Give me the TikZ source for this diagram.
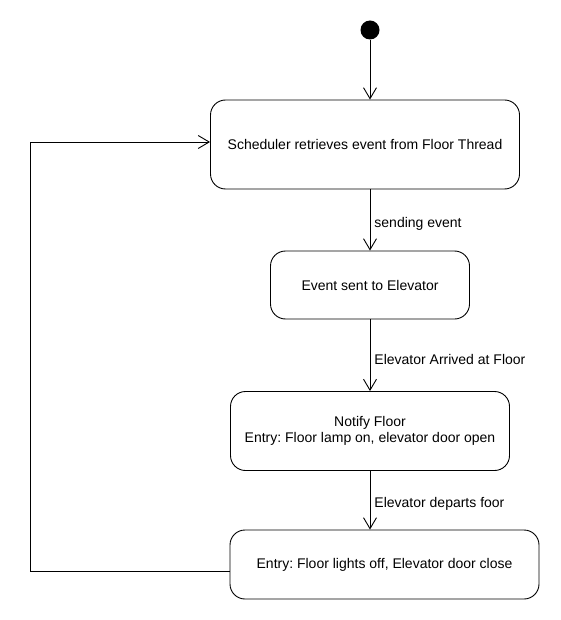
\documentclass[tikz,border=0pt]{standalone}
\usepackage{fontspec}
\setmainfont{Liberation Sans}
\usepackage{tikz}
\usetikzlibrary{arrows.meta,positioning,calc}
\frenchspacing

\tikzset{
  state/.style={draw, rounded corners=15pt, line width=0.9pt, align=center, inner sep=0pt},
  trans/.style={-{Straight Barb[length=11pt,width=13pt,line width=0.9pt]}, line width=0.9pt},
  lbl/.style={right, inner sep=4pt}
}

\begin{document}
\begin{tikzpicture}[x=1pt, y=-1pt, font=\fontsize{14}{16.5}\selectfont]
    \useasboundingbox (0,0) rectangle (560,620);

    % Initial state
    \node[circle, fill=black, minimum size=19pt, inner sep=0pt] (start) at (370,30) {};

    % States
    \node[state, minimum width=309pt, minimum height=89pt] (sched) at (365,144.5)
        {Scheduler retrieves event from Floor Thread};
    \node[state, minimum width=199pt, minimum height=68pt] (sent) at (370,285)
        {Event sent to Elevator};
    \node[state, minimum width=279pt, minimum height=79pt] (notify) at (370,431)
        {Notify Floor\\Entry: Floor lamp on, elevator door open};
    \node[state, minimum width=309pt, minimum height=69pt] (close) at (384.5,564.5)
        {Entry: Floor lights off, Elevator door close};

    % Transitions
    \draw[trans] (start) -- (start |- sched.north);
    \draw[trans] (sent.north |- sched.south) -- node[lbl, pos=0.57] {sending event} (sent.north);
    \draw[trans] (sent.south) -- node[lbl, pos=0.56] {Elevator Arrived at Floor} (notify.north);
    \draw[trans] (notify.south) -- node[lbl, pos=0.56] {Elevator departs foor} (notify.south |- close.north);

    % Loop back
    \coordinate (loopbot) at (30,571);
    \coordinate (looptop) at (30,142);
    \draw[trans] (close.west |- loopbot) -- (loopbot) -- (looptop) -- (sched.west |- looptop);
\end{tikzpicture}
\end{document}
